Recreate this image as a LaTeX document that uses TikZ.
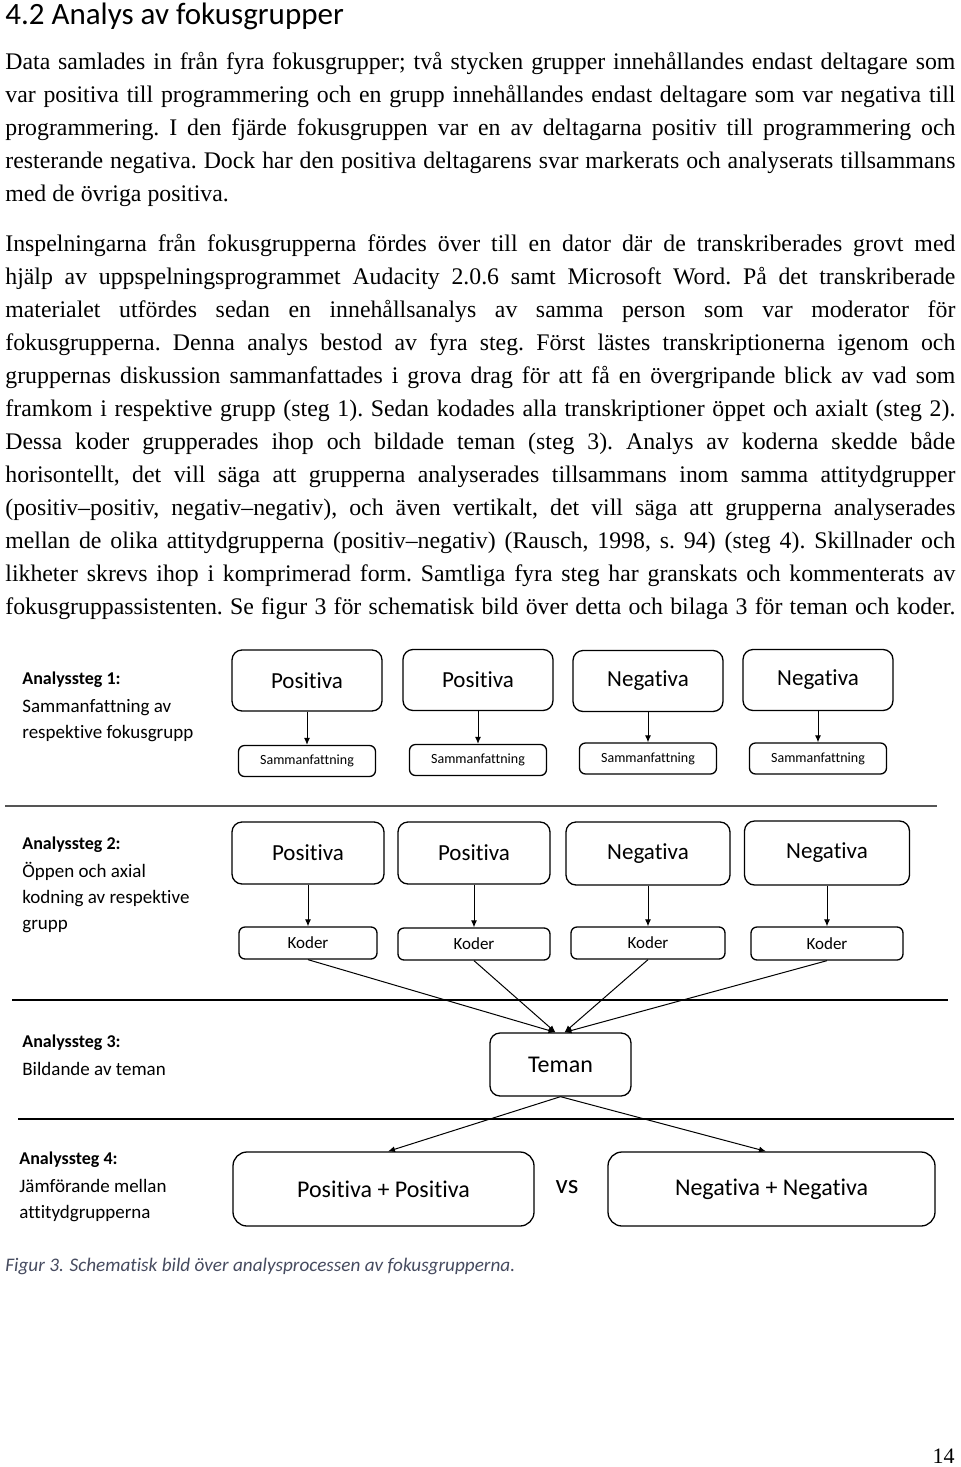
\documentclass[tikz,border=0pt]{standalone}
\usepackage{fontspec}
\setmainfont{Liberation Serif}
\newfontfamily\lab[Ligatures=NoCommon]{Carlito}
\usetikzlibrary{arrows.meta,calc}
\definecolor{capcol}{RGB}{70,75,95}
\definecolor{rulecol}{RGB}{85,85,85}
\tikzset{
  bigbox/.style={draw=black, line width=0.65pt, rounded corners=5pt, minimum height=30.5pt, minimum width=75pt, inner sep=0pt, font=\lab\fontsize{11.5}{13}\selectfont},
  smallbox/.style={draw=black, line width=0.65pt, rounded corners=3pt, minimum height=15.5pt, minimum width=68.5pt, inner sep=0pt},
  sumtxt/.style={font=\lab\fontsize{7}{8}\selectfont},
  kodtxt/.style={font=\lab\fontsize{8.5}{10}\selectfont},
  arr/.style={-{Latex[length=3.5pt,width=3pt]}, line width=0.5pt},
  sepline/.style={line width=0.8pt, draw=rulecol},
  stephead/.style={anchor=base west, inner sep=0pt, font=\lab\bfseries\fontsize{9}{11}\selectfont},
  steptxt/.style={anchor=base west, inner sep=0pt, font=\lab\fontsize{9.5}{11}\selectfont},
  bodyline/.style={anchor=base west, inner sep=0pt, font=\frenchspacing\fontsize{11.9}{14}\selectfont},
}
\newcommand{\jl}[1]{\makebox[475pt][s]{#1}}
\begin{document}
\begin{tikzpicture}[x=0.5pt,y=-0.5pt]
\useasboundingbox (0,0) rectangle (960,1467);
\fill[white] (0,0) rectangle (960,1467);

% heading
\node[anchor=base west, inner sep=0pt, font=\lab\fontsize{15.5}{18}\selectfont] (head) at (5,25) {4.2 Analys av fokusgrupper};

% paragraph 1
\node[bodyline] (l1) at (5,69) {\jl{Data samlades in från fyra fokusgrupper; två stycken grupper innehållandes endast deltagare som}};
\node[bodyline] (l2) at (5,102) {\jl{var positiva till programmering och en grupp innehållandes endast deltagare som var negativa till}};
\node[bodyline] (l3) at (5,135) {\jl{programmering. I den fjärde fokusgruppen var en av deltagarna positiv till programmering och}};
\node[bodyline] (l4) at (5,168) {\jl{resterande negativa. Dock har den positiva deltagarens svar markerats och analyserats tillsammans}};
\node[bodyline] (l5) at (5,201) {med de övriga positiva.};

% paragraph 2
\node[bodyline] (m1) at (5,251) {\jl{Inspelningarna från fokusgrupperna fördes över till en dator där de transkriberades grovt med}};
\node[bodyline] (m2) at (5,284) {\jl{hjälp av uppspelningsprogrammet Audacity 2.0.6 samt Microsoft Word. På det transkriberade}};
\node[bodyline] (m3) at (5,317) {\jl{materialet utfördes sedan en innehållsanalys av samma person som var moderator för}};
\node[bodyline] (m4) at (5,350) {\jl{fokusgrupperna. Denna analys bestod av fyra steg. Först lästes transkriptionerna igenom och}};
\node[bodyline] (m5) at (5,383) {\jl{gruppernas diskussion sammanfattades i grova drag för att få en övergripande blick av vad som}};
\node[bodyline] (m6) at (5,416) {\jl{framkom i respektive grupp (steg 1). Sedan kodades alla transkriptioner öppet och axialt (steg 2).}};
\node[bodyline] (m7) at (5,449) {\jl{Dessa koder grupperades ihop och bildade teman (steg 3). Analys av koderna skedde både}};
\node[bodyline] (m8) at (5,482) {\jl{horisontellt, det vill säga att grupperna analyserades tillsammans inom samma attitydgrupper}};
\node[bodyline] (m9) at (5,515) {\jl{(positiv–positiv, negativ–negativ), och även vertikalt, det vill säga att grupperna analyserades}};
\node[bodyline] (m10) at (5,548) {\jl{mellan de olika attitydgrupperna (positiv–negativ) (Rausch, 1998, s. 94) (steg 4). Skillnader och}};
\node[bodyline] (m11) at (5,581) {\jl{likheter skrevs ihop i komprimerad form. Samtliga fyra steg har granskats och kommenterats av}};
\node[bodyline] (m12) at (5,614) {\jl{fokusgruppassistenten. Se figur 3 för schematisk bild över detta och bilaga 3 för teman och koder.}};

% ---------- step 1 ----------
\node[stephead] (s1h) at (22,684) {Analyssteg 1:};
\node[steptxt] (s1a) at (22,712) {Sammanfattning av};
\node[steptxt] (s1b) at (22,738) {respektive fokusgrupp};

\node[bigbox] (a1) at (307,680.5) {Positiva};
\node[bigbox] (a2) at (478,680) {Positiva};
\node[bigbox] (a3) at (648,681) {Negativa};
\node[bigbox] (a4) at (818,680) {Negativa};

\node[smallbox, sumtxt] (b1) at (307,761) {Sammanfattning};
\node[smallbox, sumtxt] (b2) at (478,760) {Sammanfattning};
\node[smallbox, sumtxt] (b3) at (648,758.5) {Sammanfattning};
\node[smallbox, sumtxt] (b4) at (818,758.5) {Sammanfattning};

\draw[arr] (a1.south) -- (b1.north);
\draw[arr] (a2.south) -- (b2.north);
\draw[arr] (a3.south) -- (b3.north);
\draw[arr] (a4.south) -- (b4.north);

\coordinate (r1a) at (5,806);
\coordinate (r1b) at (937,806);
\draw[sepline] (r1a) -- (r1b);

% ---------- step 2 ----------
\node[stephead] (s2h) at (22,849) {Analyssteg 2:};
\node[steptxt] (s2a) at (22,877) {Öppen och axial};
\node[steptxt] (s2b) at (22,903) {kodning av respektive};
\node[steptxt] (s2c) at (22,929) {grupp};

\node[bigbox, minimum width=76pt, minimum height=31pt] (c1) at (308,853) {Positiva};
\node[bigbox, minimum width=76pt, minimum height=31pt] (c2) at (474,853) {Positiva};
\node[bigbox, minimum width=82pt, minimum height=31.5pt] (c3) at (648,853.5) {Negativa};
\node[bigbox, minimum width=82.5pt, minimum height=32pt] (c4) at (827,853) {Negativa};

\node[smallbox, kodtxt, minimum width=69pt, minimum height=16pt] (d1) at (308,943) {Koder};
\node[smallbox, kodtxt, minimum width=76pt, minimum height=16pt] (d2) at (474,944) {Koder};
\node[smallbox, kodtxt, minimum width=77pt, minimum height=16pt] (d3) at (648,943) {Koder};
\node[smallbox, kodtxt, minimum width=76pt, minimum height=16.5pt] (d4) at (827,943.5) {Koder};

\draw[arr] (c1.south) -- (d1.north);
\draw[arr] (c2.south) -- (d2.north);
\draw[arr] (c3.south) -- (d3.north);
\draw[arr] (c4.south) -- (d4.north);

\coordinate (r2a) at (12,1000);
\coordinate (r2b) at (948,1000);
\draw[sepline, draw=black, line width=0.6pt] (r2a) -- (r2b);

% ---------- step 3 ----------
\node[stephead] (s3h) at (22,1047) {Analyssteg 3:};
\node[steptxt] (s3a) at (22,1075) {Bildande av teman};

\node[bigbox, minimum width=70.5pt, minimum height=31.5pt, font=\lab\fontsize{12}{14}\selectfont] (t) at (560.5,1064.5) {Teman};

\draw[arr] (d1.south) -- ([xshift=-2.5pt]t.north);
\draw[arr] (d2.south) -- ([xshift=-2.5pt]t.north);
\draw[arr] (d3.south) -- ([xshift=2pt]t.north);
\draw[arr] (d4.south) -- ([xshift=2pt]t.north);

\coordinate (r3a) at (18,1119);
\coordinate (r3b) at (954,1119);
\draw[sepline, draw=black, line width=0.6pt] (r3a) -- (r3b);

% ---------- step 4 ----------
\node[stephead] (s4h) at (19,1164) {Analyssteg 4:};
\node[steptxt] (s4a) at (19,1192) {Jämförande mellan};
\node[steptxt] (s4b) at (19,1218) {attitydgrupperna};

\node[bigbox, minimum width=150.5pt, minimum height=37pt, rounded corners=7pt, font=\lab\fontsize{12}{14}\selectfont] (pp) at (383.5,1189) {Positiva + Positiva};
\node[bigbox, minimum width=163.5pt, minimum height=37pt, rounded corners=7pt, font=\lab\fontsize{12}{14}\selectfont] (nn) at (771.5,1189) {Negativa + Negativa};
\node[font=\lab\fontsize{13.5}{15}\selectfont, inner sep=0pt] (vs) at (567,1187) {vs};

\draw[arr] (t.south) -- ([xshift=2.25pt]pp.north);
\draw[arr] (t.south) -- ([xshift=-2.75pt]nn.north);

% caption
\node[anchor=base west, inner sep=0pt, text=capcol, font=\lab\itshape\fontsize{9.6}{11}\selectfont] (cap) at (5,1271) {Figur 3. Schematisk bild över analysprocessen av fokusgrupperna.};

% page number
\node[anchor=base east, inner sep=0pt, font=\fontsize{11}{13}\selectfont] (pg) at (955,1463) {14};
\end{tikzpicture}
\end{document}
